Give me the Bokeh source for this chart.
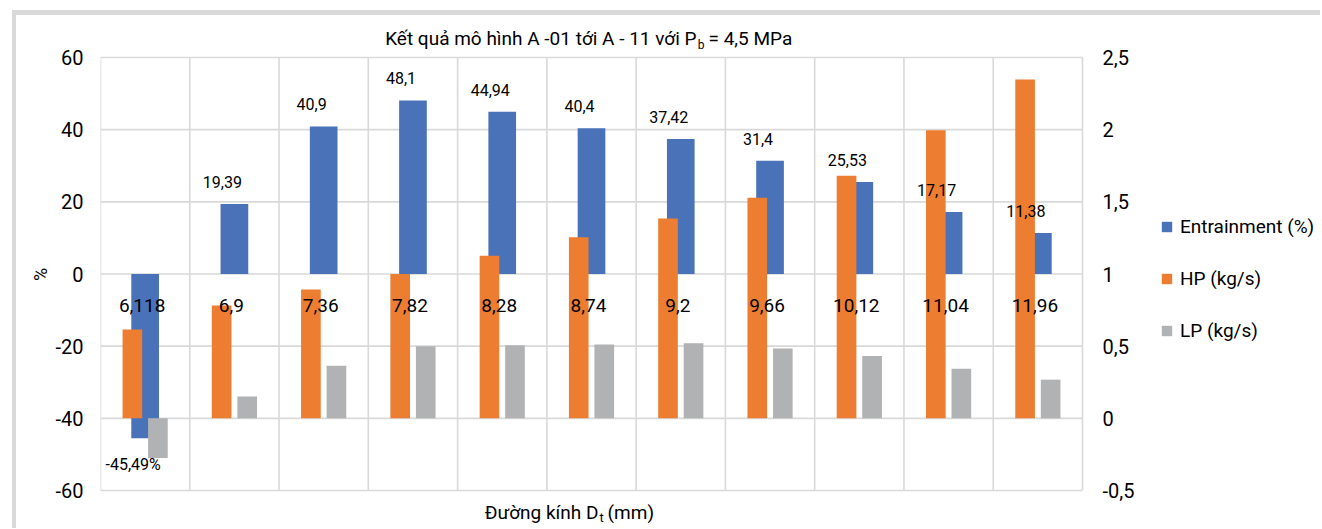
import numpy as np
from bokeh.plotting import figure
from bokeh.models import (Range1d, LinearAxis, FixedTicker, CustomJSTickFormatter,
                          ColumnDataSource, Legend, LegendItem, Label)
from bokeh.transform import dodge
from bokeh.core.properties import value
from bokeh.embed import file_html
from bokeh.resources import INLINE

FONT = "Roboto"

categories = ["6,118", "6,9", "7,36", "7,82", "8,28", "8,74", "9,2", "9,66", "10,12", "11,04", "11,96"]
entrainment = [-45.49, 19.39, 40.9, 48.1, 44.94, 40.4, 37.42, 31.4, 25.53, 17.17, 11.38]
hp = [0.615, 0.781, 0.892, 1.0, 1.127, 1.254, 1.384, 1.529, 1.68, 1.996, 2.347]
lp = [-0.274, 0.152, 0.365, 0.499, 0.506, 0.511, 0.52, 0.483, 0.432, 0.344, 0.268]
left_ticks = [-60, -40, -20, 0, 20, 40, 60]
right_ticks = [-0.5, 0, 0.5, 1, 1.5, 2, 2.5]

BLUE = "#4A72B8"
ORANGE = "#ED7D31"
GRAY = "#B1B2B4"
GRID = "#D9D9D9"

n = len(categories)
xs = list(range(n))
ent_labels = [(f"{v:g}".replace(".", ",") + ("%" if v < 0 else "")) for v in entrainment]
ent_yoff = [26 if v < 0 else -22 for v in entrainment]

src = ColumnDataSource(dict(x=xs, cat=categories, ent=entrainment, hp=hp, lp=lp,
                            lab=ent_labels, yoff=ent_yoff))

# geometry of the plotting band (pixels): x -0.5..10.5 -> 100..1082, y 60..-60 -> 57..490
W, H = 1320, 528
FL, FR, FT, FB = 100, W - 4, 20, H
PX_X = (1082 - 100) / n
PX_Y = (490 - 57) / 120.0
X_LO = -0.5
X_HI = X_LO + (FR - FL) / PX_X
Y_HI = 60 + (57 - FT) / PX_Y
Y_LO = -60 - (FB - 490) / PX_Y
# secondary axis is linked to the primary: -60 -> -0.5, 60 -> 2.5
R_LO, R_HI = Y_LO / 40 + 1, Y_HI / 40 + 1

p = figure(width=W, height=H, output_backend="svg", toolbar_location=None,
           x_range=Range1d(X_LO, X_HI), y_range=Range1d(Y_LO, Y_HI),
           x_axis_location=None,
           min_border_left=FL, min_border_right=W - FR, min_border_top=FT, min_border_bottom=H - FB)
p.extra_y_ranges = {"right": Range1d(R_LO, R_HI)}
p.border_fill_color = None
p.background_fill_color = "white"
p.outline_line_color = None
p.styles = {"box-shadow": "inset 12px 10px 0 0 #ffffff, inset 16px 15px 0 0 #D9D9D9"}

fmt = "return tick.toString().replace('.', ',');"

ya = p.yaxis[0]
ya.ticker = FixedTicker(ticks=left_ticks)
ya.formatter = CustomJSTickFormatter(code=fmt)
ya.axis_line_color = None
ya.major_tick_line_color = None
ya.minor_tick_line_color = None
ya.major_label_text_font = FONT
ya.major_label_text_font_size = "20px"
ya.major_label_text_color = "black"
ya.major_label_standoff = 11
ya.axis_label = "%"
ya.axis_label_text_font = FONT
ya.axis_label_text_font_style = "normal"
ya.axis_label_text_font_size = "18px"
ya.axis_label_text_color = "black"
ya.axis_label_standoff = 1

# secondary axis: labels start 22px right of the plotting band
ra = LinearAxis(y_range_name="right", ticker=FixedTicker(ticks=right_ticks),
                formatter=CustomJSTickFormatter(code=fmt),
                fixed_location=10.5 + 44 / PX_X)
ra.axis_line_color = None
ra.major_tick_line_color = None
ra.minor_tick_line_color = None
ra.major_label_text_font = FONT
ra.major_label_text_font_size = "20px"
ra.major_label_text_color = "black"
ra.major_label_standoff = -30
p.add_layout(ra, "right")

p.xgrid.visible = False
p.ygrid.visible = False

# gridlines of the -60..60 x -0.5..10.5 band
hgrid = ColumnDataSource(dict(gy=left_ticks))
p.segment(x0=-0.5, y0="gy", x1=n - 0.5, y1="gy", source=hgrid, line_color=GRID, line_width=1.6)
vgrid = ColumnDataSource(dict(bx=[i - 0.5 for i in range(n + 1)]))
p.segment(x0="bx", y0=left_ticks[0], x1="bx", y1=left_ticks[-1], source=vgrid,
          line_color=GRID, line_width=1.6)

r_ent = p.vbar(x="x", top="ent", bottom=0, width=0.31, source=src,
               fill_color=BLUE, line_color=None)
r_hp = p.vbar(x=dodge("x", -0.143), top="hp", bottom=0, width=0.22, source=src,
              y_range_name="right", fill_color=ORANGE, line_color=None)
r_lp = p.vbar(x=dodge("x", 0.143), top="lp", bottom=0, width=0.22, source=src,
              y_range_name="right", fill_color=GRAY, line_color=None)

# category labels next to the zero line of the primary axis
p.text(x="x", y=0, text="cat", source=src, text_font=value(FONT), text_font_size="19px",
       text_align="center", text_baseline="middle", y_offset=31, x_offset=-3, text_color="black")

# data labels for Entrainment
p.text(x="x", y="ent", text="lab", source=src, text_font=value(FONT), text_font_size="16px",
       text_align="center", text_baseline="middle", y_offset="yoff", x_offset=-12, text_color="black")

legend = Legend(items=[LegendItem(label="Entrainment (%)", renderers=[r_ent]),
                       LegendItem(label="HP (kg/s)", renderers=[r_hp]),
                       LegendItem(label="LP (kg/s)", renderers=[r_lp])],
                location=(1160 - FL, 186), orientation="vertical",
                border_line_color=None, background_fill_alpha=0,
                padding=0, margin=0, spacing=29, label_standoff=7,
                glyph_width=13, glyph_height=13, label_height=22,
                label_text_font=FONT, label_text_font_size="19px", label_text_color="black")
p.add_layout(legend)

# title with subscript
p.add_layout(Label(x=6.176, y=65.27, text="Kết quả mô hình A -01 tới A - 11 với P",
                   text_align="right", text_baseline="middle", text_font=FONT,
                   text_font_size="19px", text_color="black"))
p.add_layout(Label(x=6.19, y=63.4, text="b", text_align="left", text_baseline="middle",
                   text_font=FONT, text_font_size="12px", text_color="black"))
p.add_layout(Label(x=6.311, y=65.27, text="= 4,5 MPa", text_align="left", text_baseline="middle",
                   text_font=FONT, text_font_size="19px", text_color="black"))

# x axis title with subscript
p.add_layout(Label(x=5.078, y=-66.2, text="Đường kính D", text_align="right", text_baseline="middle",
                   text_font=FONT, text_font_size="19px", text_color="black"))
p.add_layout(Label(x=5.09, y=-67.6, text="t", text_align="left", text_baseline="middle",
                   text_font=FONT, text_font_size="13px", text_color="black"))
p.add_layout(Label(x=5.18, y=-66.2, text="(mm)", text_align="left", text_baseline="middle",
                   text_font=FONT, text_font_size="19px", text_color="black"))

open("out.html", "w").write(file_html(p, INLINE))
